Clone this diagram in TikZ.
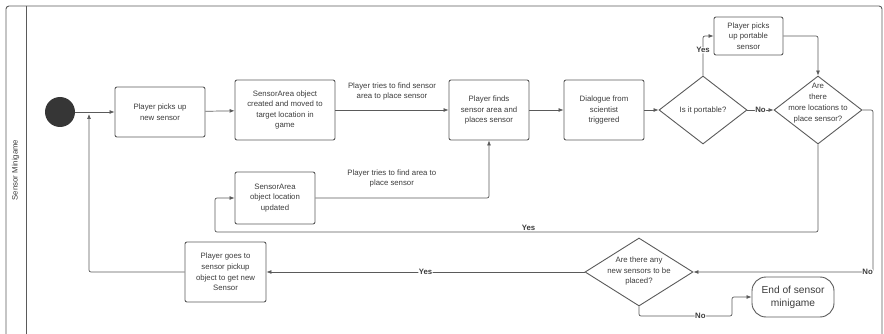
\documentclass[tikz,border=0pt]{standalone}
\usepackage{fontspec}
\setmainfont{Liberation Sans}
\usepackage{tikz}
\usetikzlibrary{arrows.meta, shapes.geometric}
\definecolor{linegray}{HTML}{5A5A5A}
\definecolor{textgray}{HTML}{3C3C3C}
\tikzset{
    box/.style={draw=linegray, line width=0.9pt, rounded corners=2pt, align=center, inner sep=1pt, text=textgray, font=\fontsize{7.8}{10.6}\selectfont},
    decision/.style={diamond, draw=linegray, line width=0.9pt, inner sep=0pt},
    terminal/.style={box, rounded corners=14pt, font=\fontsize{10.2}{13}\selectfont},
    flow/.style={draw=linegray, line width=0.7pt, rounded corners=2pt, -{Latex[length=5pt,width=4pt]}},
    guard/.style={fill=white, inner sep=0.5pt, text=textgray, font=\fontsize{7.8}{9}\selectfont\bfseries},
    note/.style={align=center, text=textgray, font=\fontsize{7.8}{10.6}\selectfont},
    lane/.style={draw=linegray, line width=0.9pt, rounded corners=3pt}
}

\begin{document}
\begin{tikzpicture}[x=1pt, y=-1pt]
    \useasboundingbox (0,0) rectangle (884,334);
    % swimlane
    \draw[lane] (6,334) -- (6,6) -- (882,6) -- (882,334);
    \draw[lane] (26,6) -- (26,334);
    \node[rotate=90, text=textgray, font=\fontsize{7.8}{9}\selectfont] (lanename) at (15.5,170) {Sensor Minigame};

    % activities
    \node[circle, fill=textgray!90!black, minimum size=30pt, inner sep=0pt] (start) at (60,112) {};
    \node[box, minimum width=90pt, minimum height=50pt] (pick) at (160,112) {Player picks up\\new sensor};
    \node[box, minimum width=100pt, minimum height=60pt] (created) at (285,110) {SensorArea object\\created and moved to\\target location in\\game};
    \node[box, minimum width=80pt, minimum height=60pt] (finds) at (489,110) {Player finds\\sensor area and\\places sensor};
    \node[box, minimum width=80pt, minimum height=52pt] (updated) at (275,198) {SensorArea\\object location\\updated};
    \node[box, minimum width=80pt, minimum height=60pt] (dialogue) at (604,110) {Dialogue from\\scientist\\triggered};
    \node[box, minimum width=69pt, minimum height=38pt] (carry) at (748.5,36) {Player picks\\up portable\\sensor};
    \node[box, minimum width=81pt, minimum height=60pt] (goes) at (225.5,272) {Player goes to\\sensor pickup\\object to get new\\Sensor};
    \node[terminal, minimum width=82pt, minimum height=40pt] (endgame) at (793,297) {End of sensor\\minigame};

    % decisions
    \node[decision, minimum width=88pt, minimum height=68pt, label={[note]center:Is it portable?}] (portable) at (703,110) {};
    \node[decision, minimum width=88pt, minimum height=68pt, label={[note, yshift=7pt, font=\fontsize{7.8}{10.8}\selectfont]center:Are\\there\\more locations to\\place sensor?}] (more) at (818,110) {};
    \node[decision, minimum width=108pt, minimum height=68pt, label={[note, yshift=1pt]center:Are there any\\new sensors to be\\placed?}] (newq) at (639,272) {};

    \coordinate (yesloop) at (215,232);
    \coordinate (noright) at (873,272);
    \coordinate (back) at (89,114);
    \coordinate (nojog) at (732,316);

    % connectors
    \draw[flow] (start) -- (pick);
    \draw[flow] (pick) -- (created);
    \draw[flow] (created) -- node[note, midway, above=6pt] {Player tries to find sensor\\area to place sensor} (finds);
    \draw[flow] (updated.east) -| node[note, pos=0.22, above=7pt] {Player tries to find area to\\place sensor} (finds.south);
    \draw[flow] (finds) -- (dialogue);
    \draw[flow] (dialogue) -- (portable);
    \draw[flow] (portable) -- node[guard, midway] {No} (more);
    \draw[flow] (portable.north) |- node[guard, pos=0.32] {Yes} (carry.west);
    \draw[flow] (carry.east) -| (more.north);
    \draw[flow] (more.south) |- node[guard, pos=0.74, above=1pt, fill=none] {Yes} (yesloop) |- (updated.west);
    \draw[flow] (more.east) -| (noright) -- node[guard, pos=0.03] {No} (newq.east);
    \draw[flow] (newq.west) -- node[guard, midway] {Yes} (goes.east);
    \draw[flow] (goes.west) -| (back);
    \draw[flow] (newq.south) |- node[guard, pos=0.83] {No} (nojog) |- (endgame.west);
\end{tikzpicture}
\end{document}
